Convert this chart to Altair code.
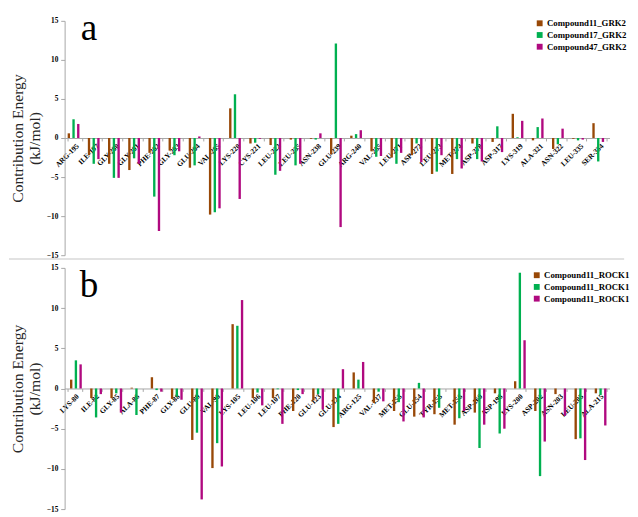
import altair as alt
import pandas as pd

# ---------------- Panel a (GRK2) ----------------
residues_a = ["ARG-195", "ILE-197", "GLY-200", "GLY-201", "PHE-202", "GLY-203", "GLU-204",
              "VAL-205", "LYS-220", "CYS-221", "LEU-222", "LEU-235", "ASN-238", "GLU-239",
              "ARG-240", "VAL-255", "LEU-271", "ASP-272", "LEU-273", "MET-274", "ASP-278",
              "ASP-317", "LYS-319", "ALA-321", "ASN-322", "LEU-335", "SER-334"]
c11_grk2 = [0.6, -2.2, -3.3, -4.1, -1.9, -1.6, -3.8, -9.8, 3.8, -0.7, -0.9, -0.2, -0.1, -2.1,
            0.3, -1.7, -2.5, -2.2, -4.6, -4.6, -0.7, -0.5, 3.1, -0.3, -1.4, -0.1, 1.9]
c17_grk2 = [2.4, -3.3, -5.1, -2.6, -7.5, -2.2, -3.5, -9.5, 5.6, -0.6, -4.7, -3.5, -0.2, 12.1,
            0.5, -2.4, -3.3, -0.7, -4.3, -2.7, -2.7, 1.5, 0.1, 1.4, -0.8, -0.3, -3.0]
c47_grk2 = [1.8, -2.7, -5.1, -3.3, -11.9, -1.7, 0.2, -9.0, -7.8, -0.1, -4.2, -3.3, 0.6, -11.4,
            1.0, -2.3, -1.9, -3.1, -2.2, -3.9, -3.0, -1.8, 2.2, 2.5, 1.2, -0.2, -0.5]
series_a_keys = ["a1", "a2", "a3"]
series_a_labels = ["Compound11_GRK2", "Compound17_GRK2", "Compound47_GRK2"]

# ---------------- Panel b (ROCK1) ----------------
residues_b = ["LYS-80", "ILE-82", "GLY-85", "ALA-86", "PHE-87", "GLY-88", "GLU-89", "VAL-90",
              "LYS-105", "LEU-106", "LEU-107", "PHE-120", "GLU-123", "GLU-124", "ARG-125",
              "VAL-137", "MET-153", "GLU-154", "TYR-155", "MET-156", "ASP-160", "ASP-198",
              "LYS-200", "ASP-202", "ASN-203", "LEU-205", "ALA-215"]
rock_s1 = [1.1, -1.2, -1.2, 0.1, 1.4, -1.3, -6.4, -9.9, 8.0, -1.2, -1.2, -2.8, -1.5, -4.8,
           2.0, -1.8, -2.8, -3.5, -3.2, -4.5, -3.0, -0.6, 0.9, -2.8, -0.7, -6.3, -0.6]
rock_s2 = [3.5, -3.6, -0.6, -3.3, -0.2, -1.0, -5.5, -6.8, 7.8, -0.5, -0.1, -0.2, -0.7, -4.4,
           1.1, -0.4, -1.7, 0.7, -2.4, -3.7, -7.4, -5.6, 14.4, -10.9, 0.0, -6.2, -0.8]
rock_s3 = [3.0, -0.7, -3.0, 0.0, -0.4, -1.4, -13.8, -9.7, 11.0, -2.1, -4.4, -0.7, -2.6, 2.4,
           3.3, -1.6, -4.1, -3.6, 0.0, -2.8, -4.5, -5.0, 6.0, -6.6, -3.4, -8.9, -4.6]
series_b_keys = ["b1", "b2", "b3"]
series_b_labels = ["Compound11_ROCK1", "Compound11_ROCK1", "Compound11_ROCK1"]

colors = ["#984807", "#00B050", "#B0097F"]
y_ticks = [-15, -10, -5, 0, 5, 10, 15]

SERIF = "Liberation Serif"
W = 558


def long_df(residues, keys, values):
    rows = []
    for k, vals in zip(keys, values):
        for r, v in zip(residues, vals):
            rows.append({"residue": r, "series": k, "value": v})
    return pd.DataFrame(rows)


def label_expr(keys, labels):
    parts = ",".join("'%s':'%s'" % (k, l) for k, l in zip(keys, labels))
    return "{%s}[datum.value]" % parts


def panel(residues, keys, labels, values, letter, H, legend_x, legend_y, letter_y, sep):
    df = long_df(residues, keys, values)
    bars = alt.Chart(df).mark_bar().encode(
        x=alt.X("residue:N", sort=residues,
                scale=alt.Scale(paddingInner=0.3, paddingOuter=0.15),
                axis=alt.Axis(title=None, orient="bottom", offset=-H / 2,
                              labelAngle=315, labelFont=SERIF, labelFontWeight="bold",
                              labelFontSize=7.5, labelColor="#000000", labelPadding=1,
                              domainColor="#A6A6A6", tickColor="#A6A6A6", tickSize=3,
                              tickBand="extent", labelOverlap=False)),
        xOffset=alt.XOffset("series:N", sort=keys),
        y=alt.Y("value:Q", scale=alt.Scale(domain=[-15, 15], nice=False),
                axis=alt.Axis(title=["Contribution Energy", "(kJ/mol)"], values=y_ticks,
                              titleFont=SERIF, titleFontSize=16, titleFontWeight="normal",
                              titleColor="#262626", titleLineHeight=17, titlePadding=4,
                              labelFont=SERIF, labelFontWeight="bold", labelFontSize=7.5,
                              labelColor="#000000", labelPadding=3,
                              domainColor="#A6A6A6", tickColor="#A6A6A6", tickSize=4,
                              grid=False)),
        color=alt.Color("series:N", sort=keys,
                        scale=alt.Scale(domain=keys, range=colors),
                        legend=alt.Legend(title=None, orient="none", legendX=legend_x,
                                          legendY=legend_y, symbolType="square",
                                          symbolSize=36, labelFont=SERIF,
                                          labelFontWeight="bold", labelFontSize=9,
                                          labelColor="#000000", rowPadding=2,
                                          labelOffset=3, labelExpr=label_expr(keys, labels))),
    )
    letter_df = pd.DataFrame({"t": [letter]})
    txt = alt.Chart(letter_df).mark_text(font=SERIF, fontSize=38, align="center",
                                         baseline="alphabetic", color="#000000",
                                         clip=True).encode(
        x=alt.value(25), y=alt.value(letter_y), text="t:N")
    layers = [bars, txt]
    if sep:
        rule_df = pd.DataFrame({"t": [0]})
        rule = alt.Chart(rule_df).mark_rule(color="#D9D9D9", strokeWidth=1.5).encode(
            x=alt.value(-57), x2=alt.value(573), y=alt.value(H + 4))
        layers.append(rule)
    return alt.layer(*layers).properties(width=W, height=H)


pa = panel(residues_a, series_a_keys, series_a_labels, [c11_grk2, c17_grk2, c47_grk2],
           "a", 240, 482, -2, 20, True)
pb = panel(residues_b, series_b_keys, series_b_labels, [rock_s1, rock_s2, rock_s3],
           "b", 247, 479, 3, 30, False)

chart = alt.vconcat(pa, pb, spacing=13, bounds="flush").resolve_scale(
    color="independent", x="independent").resolve_legend(color="independent").properties(
    padding={"left": 0, "top": 3, "right": 0, "bottom": 0}, background="#FFFFFF"
).configure_view(stroke=None)

chart.save("out.html", embed_options={"renderer": "svg", "actions": False})
